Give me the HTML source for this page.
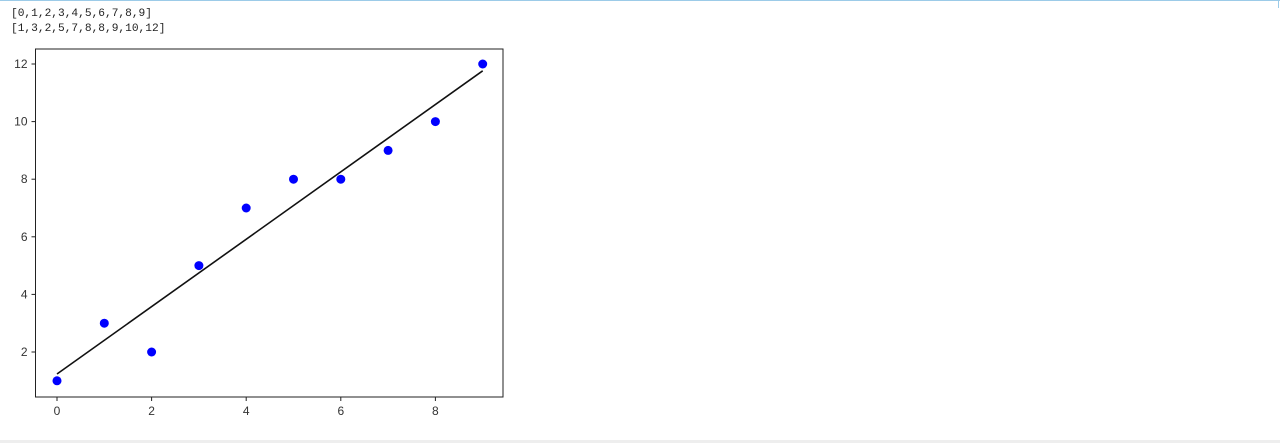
<!DOCTYPE html>
<html><head><meta charset="utf-8"><style>
body{margin:0;width:1280px;height:443px;background:#fff;position:relative;overflow:hidden;font-family:"Liberation Sans",sans-serif}
#topline{position:absolute;left:0;top:0;width:1280px;height:1px;background:#9ccbe8}
#rightline{position:absolute;right:1px;top:0;width:1px;height:8px;background:#9ccbe8}
#botline{position:absolute;left:0;top:440px;width:1280px;height:3px;background:#eee}
pre{position:absolute;left:11px;top:7px;margin:0;font-family:"Liberation Mono",monospace;font-size:11.2px;line-height:15px;color:#222}
svg{position:absolute;left:0;top:0}
</style></head><body>
<div id="topline"></div>
<div id="rightline"></div>
<div id="botline"></div>
<pre>[0,1,2,3,4,5,6,7,8,9]
[1,3,2,5,7,8,8,9,10,12]</pre>
<svg id="chart" width="1280" height="443"></svg>
<script>
const xs=[0,1,2,3,4,5,6,7,8,9];
const ys=[1,3,2,5,7,8,8,9,10,12];
const xTicks=[0,2,4,6,8];
const yTicks=[2,4,6,8,10,12];
const NS="http://www.w3.org/2000/svg";
const svg=document.getElementById('chart');
const L=35.5,R=503,T=49,B=397;
const sx=v=>57+v*47.3;
const sy=v=>352-(v-2)*28.8;
function mk(tag,attrs){const e=document.createElementNS(NS,tag);for(const k in attrs)e.setAttribute(k,attrs[k]);svg.appendChild(e);return e;}
const frame=mk('rect',{x:L,y:T,width:R-L,height:B-T,fill:'none',stroke:'#222','stroke-width':1});


xTicks.forEach(t=>{
  const l=mk('line',{x1:sx(t),x2:sx(t),y1:B,y2:B+4,stroke:'#222'});
  
  
  const tx=mk('text',{x:sx(t),y:B+18,'text-anchor':'middle','font-size':'12',fill:'#333'});
  tx.textContent=t;
  
  
});
yTicks.forEach(t=>{
  const l=mk('line',{x1:L-4,x2:L,y1:sy(t),y2:sy(t),stroke:'#222'});
  
  
  const tx=mk('text',{x:L-8,y:sy(t)+4,'text-anchor':'end','font-size':'12',fill:'#333'});
  tx.textContent=t;
  
  
});
const n=xs.length,mx=xs.reduce((a,b)=>a+b)/n,my=ys.reduce((a,b)=>a+b)/n;
let sxy=0,sxx=0;xs.forEach((x,i)=>{sxy+=(x-mx)*(ys[i]-my);sxx+=(x-mx)**2;});
const m=sxy/sxx,c=my-m*mx;
const x0=Math.min(...xs),x1=Math.max(...xs);
const fl=mk('line',{x1:sx(x0),y1:sy(m*x0+c),x2:sx(x1),y2:sy(m*x1+c),stroke:'#111','stroke-width':1.6});


xs.forEach((x,i)=>{
  const p=mk('circle',{cx:sx(x),cy:sy(ys[i]),r:4.5,fill:'#0000ff'});
  
  
});
</script>
</body></html>
